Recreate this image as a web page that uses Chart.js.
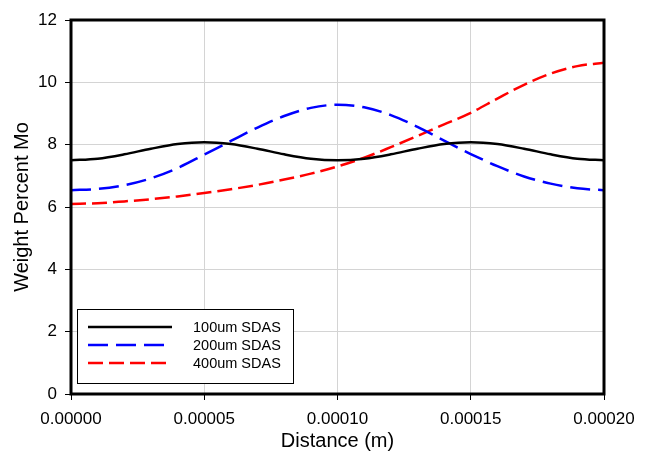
<!DOCTYPE html>
<html>
<head>
<meta charset="utf-8">
<script src="https://cdn.jsdelivr.net/npm/chart.js@4"></script>
<style>
  html, body { margin: 0; padding: 0; background: #fff; }
  #wrap { width: 648px; height: 456px; }
</style>
</head>
<body>
<div id="wrap"><canvas id="moChart" width="648" height="456"></canvas></div>
<script>
const distance = [0, 0.00001, 0.00002, 0.00003, 0.00004, 0.00005, 0.00006, 0.00007, 0.00008, 0.00009,
  0.0001, 0.00011, 0.00012, 0.00013, 0.00014, 0.00015, 0.00016, 0.00017, 0.00018, 0.00019, 0.0002];

const sdas100 = [7.50, 7.55, 7.69, 7.87, 8.02, 8.08, 8.02, 7.87, 7.69, 7.55,
  7.50, 7.55, 7.69, 7.87, 8.02, 8.08, 8.02, 7.87, 7.69, 7.55, 7.50];
const sdas200 = [6.54, 6.58, 6.70, 6.92, 7.25, 7.68, 8.12, 8.55, 8.92, 9.18,
  9.28, 9.20, 8.95, 8.57, 8.13, 7.70, 7.31, 6.98, 6.75, 6.60, 6.54];
const sdas400 = [6.10, 6.12, 6.18, 6.25, 6.34, 6.45, 6.57, 6.71, 6.88, 7.07,
  7.30, 7.58, 7.92, 8.28, 8.65, 9.02, 9.48, 9.92, 10.28, 10.52, 10.63];

const seriesLabels = ['100um SDAS', '200um SDAS', '400um SDAS'];
const xTicks = [0, 0.00005, 0.0001, 0.00015, 0.0002];
const yTicks = [0, 2, 4, 6, 8, 10, 12];

const fontFamily = '"Liberation Sans", Arial, sans-serif';

// cuadro de leyenda dibujado a mano, como en la figura original
const boxLegend = {
  id: 'boxLegend',
  afterDraw(chart) {
    const ctx = chart.ctx;
    const a = chart.chartArea;
    // borde grueso del área de trazado
    ctx.save();
    ctx.strokeStyle = '#000';
    ctx.lineWidth = 3;
    ctx.strokeRect(a.left, a.top, a.right - a.left, a.bottom - a.top);

    const x0 = a.left + 6, y0 = a.bottom - 85, w = 216, h = 74;
    ctx.fillStyle = '#fff';
    ctx.fillRect(x0, y0, w, h);
    ctx.lineWidth = 1;
    ctx.strokeRect(x0 + 0.5, y0 + 0.5, w, h);

    ctx.font = '14.5px ' + fontFamily;
    ctx.textBaseline = 'middle';
    chart.data.datasets.forEach((ds, i) => {
      const y = y0 + 18 + i * 18;
      ctx.beginPath();
      ctx.strokeStyle = ds.borderColor;
      ctx.lineWidth = ds.borderWidth;
      ctx.setLineDash(ds.borderDash || []);
      ctx.moveTo(x0 + 11, y);
      ctx.lineTo(x0 + 95, y);
      ctx.stroke();
      ctx.setLineDash([]);
      ctx.fillStyle = '#000';
      ctx.fillText(ds.label, x0 + 116, y + 1);
    });
    ctx.restore();
  }
};

new Chart(document.getElementById('moChart'), {
  type: 'line',
  data: {
    datasets: [
      {
        label: seriesLabels[0],
        data: distance.map((d, i) => ({ x: d, y: sdas100[i] })),
        borderColor: '#000000',
        borderWidth: 2.5
      },
      {
        label: seriesLabels[1],
        data: distance.map((d, i) => ({ x: d, y: sdas200[i] })),
        borderColor: '#0000ff',
        borderWidth: 2.5,
        borderDash: [20, 8]
      },
      {
        label: seriesLabels[2],
        data: distance.map((d, i) => ({ x: d, y: sdas400[i] })),
        borderColor: '#ff0000',
        borderWidth: 2.5,
        borderDash: [15, 6]
      }
    ]
  },
  options: {
    responsive: false,
    animation: false,
    pointRadius: 0,
    cubicInterpolationMode: 'monotone',
    layout: { padding: { left: 0, top: 20, right: 44, bottom: 0 } },
    plugins: {
      legend: { display: false },
      tooltip: { enabled: false }
    },
    scales: {
      x: {
        type: 'linear',
        min: 0,
        max: 0.0002,
        afterBuildTicks: s => { s.ticks = xTicks.map(v => ({ value: v })); },
        afterFit: s => { s.height = 62; },
        grid: { color: '#d4d4d4', tickColor: '#000', tickLength: 6, lineWidth: 1 },
        border: { display: false },
        ticks: {
          color: '#000',
          font: { family: fontFamily, size: 17 },
          padding: 9,
          maxRotation: 0,
          callback: v => v.toFixed(5)
        },
        title: {
          display: true,
          text: 'Distance (m)',
          color: '#000',
          font: { family: fontFamily, size: 20 },
          padding: { top: 0, bottom: 3 }
        }
      },
      y: {
        min: 0,
        max: 12,
        afterBuildTicks: s => { s.ticks = yTicks.map(v => ({ value: v })); },
        afterFit: s => { s.width = 71; },
        grid: { color: '#d4d4d4', tickColor: '#000', tickLength: 6, lineWidth: 1 },
        border: { display: false },
        ticks: {
          color: '#000',
          font: { family: fontFamily, size: 17 },
          padding: 8
        },
        title: {
          display: true,
          text: 'Weight Percent Mo',
          color: '#000',
          font: { family: fontFamily, size: 20 },
          padding: { top: 10, bottom: 0 }
        }
      }
    }
  },
  plugins: [boxLegend]
});
</script>
</body>
</html>
